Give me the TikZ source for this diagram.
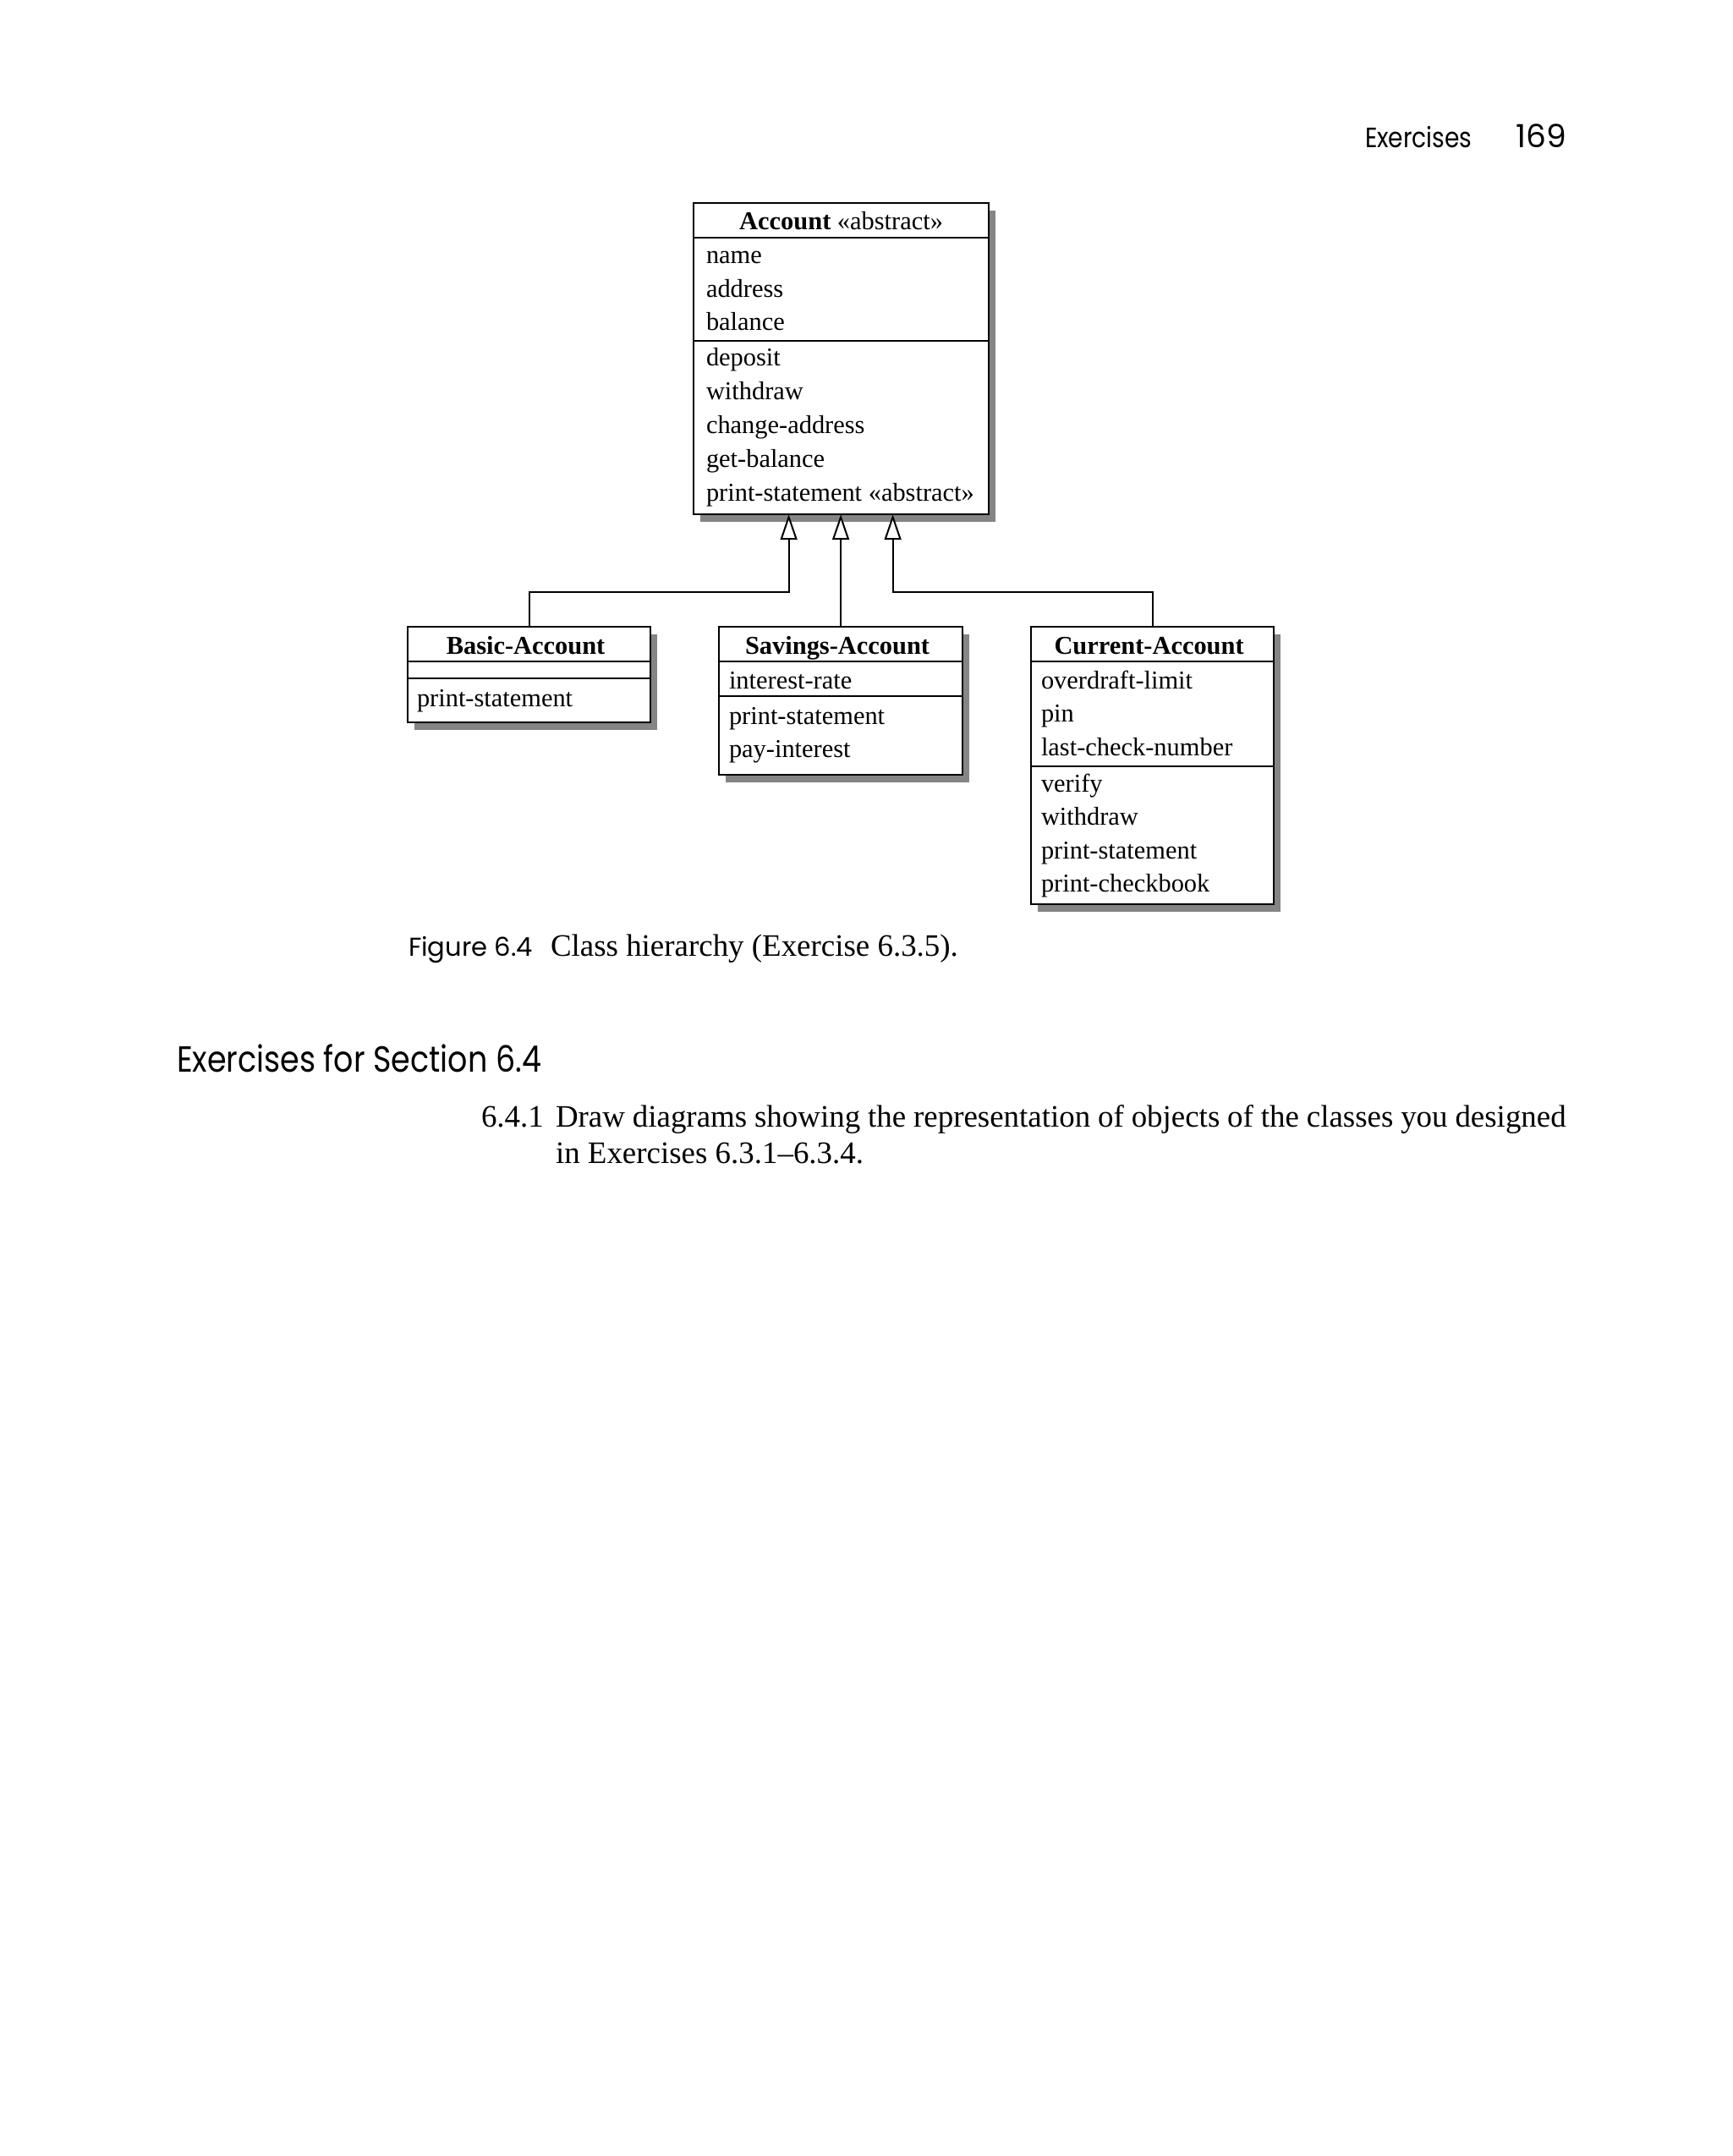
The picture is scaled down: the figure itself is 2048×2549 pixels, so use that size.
\documentclass[tikz,border=0pt]{standalone}
\usepackage{fontspec}
\setmainfont{Liberation Serif}
\newfontfamily\futura{Poppins}
\newfontfamily\futuranarrow[FakeStretch=0.85]{Poppins}
\usetikzlibrary{positioning,calc,shadows,arrows.meta}

\tikzset{
  classbox/.style={draw, fill=white, anchor=north west, inner sep=0pt, outer sep=0pt,
    drop shadow={shadow xshift=0.08cm, shadow yshift=-0.09cm, fill=black!48, opacity=1}},
  classname/.style={anchor=base, inner sep=0pt, font=\fontsize{8.65}{11.24}\selectfont\bfseries},
  member/.style={anchor=base west, inner sep=0pt, font=\fontsize{8.65}{11.24}\selectfont},
  inherit/.style={-{Triangle[width=0.2cm, length=0.3cm, fill=white]}},
  pagetext/.style={anchor=base west, inner sep=0pt, font=\fontsize{10.5}{12.2}\selectfont},
}

\begin{document}
\begin{tikzpicture}[x=0.01cm, y=-0.01cm, line width=0.57pt]
    \useasboundingbox (0,0) rectangle (2048,2549);

    % Running head
    \node[anchor=base west, inner sep=0pt, font=\futuranarrow\fontsize{9.4}{11}\selectfont] (runhead) at (1613,175) {Exercises};
    \node[anchor=base east, inner sep=0pt, font=\futura\fontsize{10.7}{12}\selectfont] (pageno) at (1853,175) {169};

    % Superclass
    \node[classbox, minimum width=3.49cm, minimum height=3.68cm] (account) at (820,240) {};
    \draw ($(account.north west)+(0,41)$) -- ($(account.north east)+(0,41)$);
    \draw ($(account.north west)+(0,163)$) -- ($(account.north east)+(0,163)$);
    \node[classname] (account-name) at ($(account.north)+(0,32)$) {Account \textmd{«abstract»}};
    \foreach \m [count=\i from 0] in {name,address,balance}
        \node[member] (account-a\i) at ($(account.north west)+(14,72+39.5*\i)$) {\m};
    \foreach \m [count=\i from 0] in {deposit,withdraw,change-address,get-balance,print-statement «abstract»}
        \node[member] (account-m\i) at ($(account.north west)+(14,193+40*\i)$) {\m};

    % Subclasses
    \node[classbox, minimum width=2.87cm, minimum height=1.13cm] (basic) at (482,741) {};
    \draw ($(basic.north west)+(0,41)$) -- ($(basic.north east)+(0,41)$);
    \draw ($(basic.north west)+(0,61)$) -- ($(basic.north east)+(0,61)$);
    \node[classname] (basic-name) at ($(basic.north)+(-4,32)$) {Basic-Account};
    \node[member] (basic-m0) at ($(basic.north west)+(10,94)$) {print-statement};

    \node[classbox, minimum width=2.88cm, minimum height=1.75cm] (savings) at (850,741) {};
    \draw ($(savings.north west)+(0,41)$) -- ($(savings.north east)+(0,41)$);
    \draw ($(savings.north west)+(0,82)$) -- ($(savings.north east)+(0,82)$);
    \node[classname] (savings-name) at ($(savings.north)+(-4,32)$) {Savings-Account};
    \node[member] (savings-a0) at ($(savings.north west)+(11,73)$) {interest-rate};
    \foreach \m [count=\i from 0] in {print-statement,pay-interest}
        \node[member] (savings-m\i) at ($(savings.north west)+(11,115+39.5*\i)$) {\m};

    \node[classbox, minimum width=2.87cm, minimum height=3.28cm] (current) at (1219,741) {};
    \draw ($(current.north west)+(0,41)$) -- ($(current.north east)+(0,41)$);
    \draw ($(current.north west)+(0,165)$) -- ($(current.north east)+(0,165)$);
    \node[classname] (current-name) at ($(current.north)+(-4,32)$) {Current-Account};
    \foreach \m [count=\i from 0] in {overdraft-limit,pin,last-check-number}
        \node[member] (current-a\i) at ($(current.north west)+(11,73+39.5*\i)$) {\m};
    \foreach \m [count=\i from 0] in {verify,withdraw,print-statement,print-checkbook}
        \node[member] (current-m\i) at ($(current.north west)+(11,195+39.5*\i)$) {\m};

    % Inheritance
    \coordinate (tipbasic) at ($(account.south)+(-62,0)$);
    \coordinate (tipcurrent) at ($(account.south)+(61,0)$);
    \draw[inherit] (basic.north) |- ($(tipbasic)+(0,92)$) -- (tipbasic);
    \draw[inherit] (savings.north) -- (savings.north |- account.south);
    \draw[inherit] (current.north) |- ($(tipcurrent)+(0,92)$) -- (tipcurrent);

    % Caption
    \node[anchor=base west, inner sep=0pt, font=\futura\fontsize{8.7}{10}\selectfont] (figlabel) at (482,1130) {Figure 6.4};
    \node[pagetext] (figcaption) at (650,1130) {Class hierarchy (Exercise 6.3.5).};

    % Exercises
    \node[anchor=base west, inner sep=0pt, font=\futuranarrow\fontsize{12.2}{15}\selectfont] (sechead) at (208,1267) {Exercises for Section 6.4};
    \node[pagetext] (exnum) at (568,1332) {6.4.1};
    \node[pagetext] (exline1) at (656,1332) {\makebox[11.94cm][s]{Draw diagrams showing the representation of objects of the classes you designed}};
    \node[pagetext] (exline2) at (656,1375) {in Exercises 6.3.1–6.3.4.};
\end{tikzpicture}
\end{document}
